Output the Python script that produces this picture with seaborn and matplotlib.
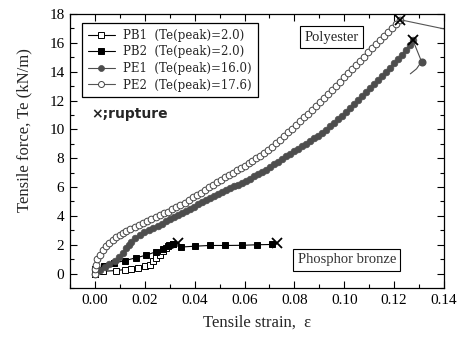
import numpy as np
import pandas as pd
import matplotlib
matplotlib.use("Agg")
import matplotlib.pyplot as plt
from matplotlib.ticker import MultipleLocator
import seaborn as sns

# Données (déformation, force)
pb1_strain = [0.0000, 0.0032, 0.0085, 0.0120, 0.0146, 0.0172, 0.0199, 0.0219, 0.0232,
              0.0246, 0.0259, 0.0273, 0.0286, 0.0299, 0.0315]
pb1_force = [0.00, 0.16, 0.21, 0.28, 0.35, 0.40, 0.51, 0.63, 0.86,
             1.09, 1.32, 1.55, 1.79, 1.95, 2.02]

pb2_strain = [0.0000, 0.0000, 0.0035, 0.0075, 0.0120, 0.0166, 0.0206, 0.0246, 0.0273,
              0.0293, 0.0313, 0.0345, 0.0401, 0.0461, 0.0521, 0.0588, 0.0652, 0.0712]
pb2_force = [-0.05, 0.30, 0.50, 0.72, 0.90, 1.10, 1.28, 1.52, 1.72,
             1.90, 2.02, 1.84, 1.90, 1.95, 1.95, 1.96, 2.00, 2.02]

pe1_strain = [0.0000, 0.0008, 0.0020, 0.0039, 0.0058, 0.0079, 0.0096, 0.0112, 0.0124,
              0.0135, 0.0146, 0.0162, 0.0179, 0.0197, 0.0215, 0.0234, 0.0252, 0.0270,
              0.0286, 0.0302, 0.0318, 0.0334, 0.0350, 0.0366, 0.0382, 0.0398, 0.0414,
              0.0430, 0.0446, 0.0462, 0.0478, 0.0494, 0.0510, 0.0526, 0.0542, 0.0558,
              0.0574, 0.0590, 0.0606, 0.0622, 0.0638, 0.0654, 0.0670, 0.0686, 0.0702,
              0.0718, 0.0734, 0.0750, 0.0766, 0.0782, 0.0798, 0.0814, 0.0830, 0.0846,
              0.0862, 0.0878, 0.0894, 0.0910, 0.0926, 0.0942, 0.0958, 0.0974, 0.0990,
              0.1006, 0.1022, 0.1038, 0.1054, 0.1070, 0.1086, 0.1102, 0.1118, 0.1134,
              0.1150, 0.1166, 0.1182, 0.1198, 0.1214, 0.1230, 0.1246, 0.1262, 0.1275]
pe1_force = [-0.05, 0.15, 0.28, 0.45, 0.65, 0.88, 1.15, 1.45, 1.75,
             2.00, 2.22, 2.45, 2.68, 2.87, 3.02, 3.16, 3.31, 3.47,
             3.62, 3.76, 3.90, 4.04, 4.18, 4.33, 4.48, 4.64, 4.80,
             4.95, 5.10, 5.24, 5.38, 5.52, 5.66, 5.80, 5.93, 6.05,
             6.17, 6.30, 6.44, 6.59, 6.74, 6.89, 7.05, 7.21, 7.40,
             7.58, 7.76, 7.95, 8.12, 8.30, 8.48, 8.66, 8.84, 9.02,
             9.20, 9.38, 9.56, 9.76, 9.98, 10.20, 10.44, 10.70, 10.96,
             11.22, 11.49, 11.76, 12.03, 12.30, 12.57, 12.84, 13.12, 13.41,
             13.70, 13.99, 14.28, 14.57, 14.87, 15.18, 15.50, 15.86, 16.20]
pe1_tail_strain = [0.1275, 0.1310, 0.1290, 0.1265]
pe1_tail_force = [16.20, 14.70, 14.20, 13.85]

pe2_strain = [0.0000, 0.0001, 0.0003, 0.0008, 0.0019, 0.0031, 0.0045, 0.0058, 0.0072,
              0.0085, 0.0099, 0.0112, 0.0126, 0.0142, 0.0159, 0.0175, 0.0192, 0.0209,
              0.0226, 0.0243, 0.0259, 0.0276, 0.0293, 0.0310, 0.0326, 0.0343, 0.0360,
              0.0376, 0.0392, 0.0408, 0.0424, 0.0440, 0.0456, 0.0472, 0.0488, 0.0504,
              0.0520, 0.0536, 0.0552, 0.0568, 0.0584, 0.0600, 0.0616, 0.0632, 0.0648,
              0.0664, 0.0680, 0.0696, 0.0712, 0.0728, 0.0744, 0.0760, 0.0776, 0.0792,
              0.0808, 0.0824, 0.0840, 0.0856, 0.0872, 0.0888, 0.0904, 0.0920, 0.0936,
              0.0952, 0.0968, 0.0984, 0.1000, 0.1016, 0.1032, 0.1048, 0.1064, 0.1080,
              0.1096, 0.1112, 0.1128, 0.1144, 0.1160, 0.1176, 0.1192, 0.1208, 0.1225]
pe2_force = [-0.05, 0.30, 0.63, 0.98, 1.32, 1.62, 1.88, 2.12, 2.35,
             2.53, 2.70, 2.83, 2.95, 3.07, 3.20, 3.34, 3.50, 3.65,
             3.80, 3.93, 4.05, 4.17, 4.30, 4.45, 4.60, 4.75, 4.92,
             5.10, 5.28, 5.45, 5.62, 5.80, 5.97, 6.15, 6.32, 6.50,
             6.67, 6.84, 7.00, 7.17, 7.32, 7.48, 7.65, 7.82, 7.99,
             8.17, 8.35, 8.55, 8.78, 9.04, 9.29, 9.55, 9.80, 10.06,
             10.32, 10.57, 10.83, 11.08, 11.34, 11.60, 11.87, 12.15, 12.44,
             12.73, 13.02, 13.31, 13.60, 13.89, 14.18, 14.46, 14.75, 15.04,
             15.33, 15.61, 15.90, 16.19, 16.48, 16.77, 17.05, 17.33, 17.60]
pe2_tail_strain = [0.1225, 0.1460]
pe2_tail_force = [17.60, 16.75]

rupture_strain = [0.0335, 0.0731, 0.1225, 0.1275]
rupture_force = [2.10, 2.10, 17.60, 16.20]

labels = ["PB1  (Te(peak)=2.0)", "PB2  (Te(peak)=2.0)",
          "PE1  (Te(peak)=16.0)", "PE2  (Te(peak)=17.6)"]

sns.set_style("ticks")
plt.rcParams["font.family"] = ["Liberation Serif", "DejaVu Serif"]
plt.rcParams["mathtext.fontset"] = "dejavuserif"

fig = plt.figure(figsize=(4.62, 3.38), dpi=100)
ax = fig.add_axes([0.1515, 0.1479, 0.8095, 0.8107])

sns.lineplot(x=pb1_strain, y=pb1_force, sort=False, estimator=None, ax=ax,
             color="black", lw=0.8, marker="s", markersize=4.6,
             markerfacecolor="white", markeredgecolor="black", markeredgewidth=0.7,
             label=labels[0])
sns.lineplot(x=pb2_strain, y=pb2_force, sort=False, estimator=None, ax=ax,
             color="black", lw=0.8, marker="s", markersize=4.6,
             markerfacecolor="black", markeredgecolor="black", markeredgewidth=0.7,
             label=labels[1])
sns.lineplot(x=pe1_strain, y=pe1_force, sort=False, estimator=None, ax=ax,
             color="#4d4d4d", lw=0.8, marker="o", markersize=4.8,
             markerfacecolor="#4d4d4d", markeredgecolor="#4d4d4d", markeredgewidth=0.5,
             label=labels[2])
sns.lineplot(x=pe2_strain, y=pe2_force, sort=False, estimator=None, ax=ax,
             color="#555555", lw=0.8, marker="o", markersize=4.8,
             markerfacecolor="white", markeredgecolor="#444444", markeredgewidth=0.7,
             label=labels[3])

# après la rupture
ax.plot(pe1_tail_strain, pe1_tail_force, color="#4d4d4d", lw=0.8)
ax.plot(pe1_tail_strain[1:2], pe1_tail_force[1:2], "o", color="#4d4d4d", ms=4.8)
ax.plot(pe2_tail_strain, pe2_tail_force, color="#555555", lw=0.8)
ax.plot(rupture_strain, rupture_force, "x", color="black", ms=7, mew=1.3)

ax.set_xlim(-0.01, 0.14)
ax.set_ylim(-1, 18)
ax.xaxis.set_major_locator(MultipleLocator(0.02))
ax.xaxis.set_minor_locator(MultipleLocator(0.01))
ax.yaxis.set_major_locator(MultipleLocator(2))
ax.yaxis.set_minor_locator(MultipleLocator(1))
ax.set_xticks(np.arange(0, 0.141, 0.02))
ax.set_xticklabels(["0.00", "0.02", "0.04", "0.06", "0.08", "0.10", "0.12", "0.14"])
ax.tick_params(which="both", direction="in", top=True, right=True,
               colors="black", labelsize=11, pad=4)
ax.tick_params(which="major", length=5, width=0.8)
ax.tick_params(which="minor", length=3, width=0.8)
for s in ax.spines.values():
    s.set_color("black")
    s.set_linewidth(0.9)

ax.set_xlabel("Tensile strain,  ε", fontsize=12, labelpad=6)
ax.set_ylabel("Tensile force, Te (kN/m)", fontsize=12)
ax.yaxis.set_label_coords(-0.1, 0.577)

leg = ax.legend(loc="upper left", bbox_to_anchor=(0.032, 0.967), borderaxespad=0,
                frameon=True, fancybox=False, edgecolor="black", framealpha=1,
                prop={"family": "DejaVu Serif", "size": 8.5},
                handlelength=2.3, handletextpad=0.7, labelspacing=0.3, borderpad=0.5)
leg.get_frame().set_linewidth(0.9)
for h in leg.legend_handles:
    h.set_markersize(4.3)

ax.text(-0.0013, 11.1, "×;rupture", fontsize=10, fontweight="bold",
        family="DejaVu Sans", va="center", ha="left")
box = dict(boxstyle="square,pad=0.3", facecolor="white", edgecolor="black", lw=0.8)
ax.text(0.095, 16.4, "Polyester", fontsize=10.5, ha="center", va="center", bbox=box)
ax.text(0.101, 0.95, "Phosphor bronze", fontsize=10.5, ha="center", va="center",
        color="#333333", bbox=box)

fig.savefig("out.png", dpi=100)
